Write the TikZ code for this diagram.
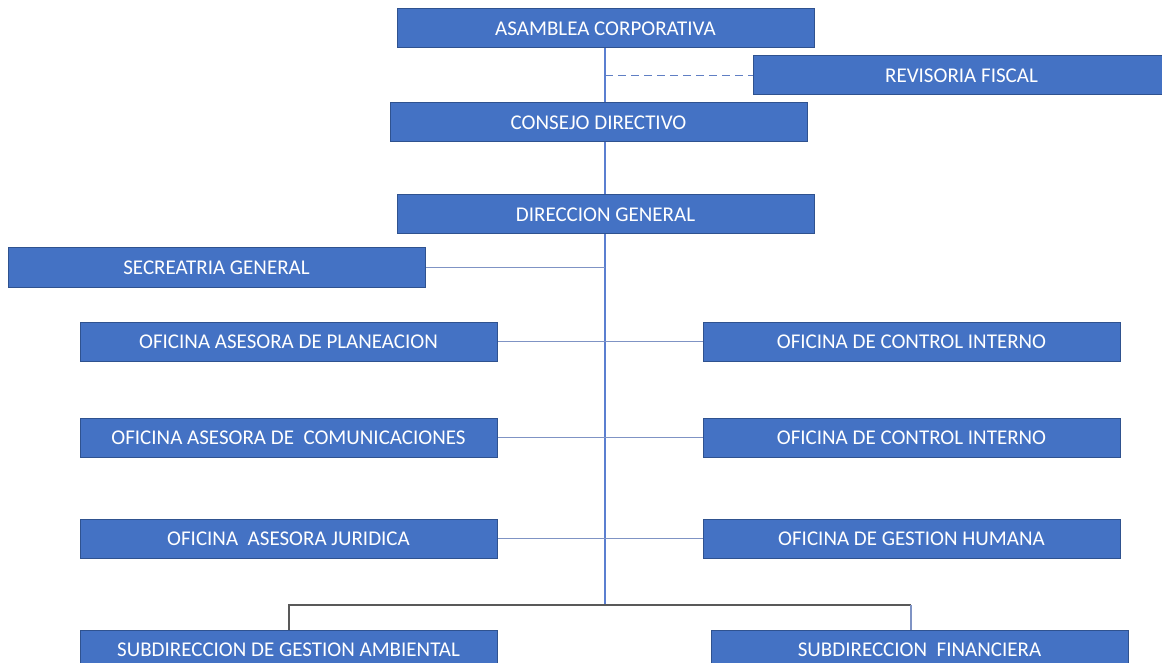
\documentclass[tikz,border=0pt]{standalone}
\usepackage{fontspec}
\setmainfont{Carlito}
\usetikzlibrary{backgrounds}
\definecolor{OrgBlue}{HTML}{4472C4}
\definecolor{OrgBorder}{HTML}{2F528F}
\definecolor{LineBlue}{HTML}{5B7FD0}
\definecolor{LineGrey}{HTML}{7F93C4}
\tikzstyle{every node}=[font=\fontsize{21}{25}\selectfont]
\tikzset{BoxStyle/.style = {
			shape          = rectangle,
			draw           = OrgBorder,
			fill           = OrgBlue,
			text           = white,
			line width     = 1pt,
			inner sep      = 0pt,
			outer sep      = 0pt,
			minimum width  = 417pt,
			minimum height = 39pt}
			}
\tikzset{EdgeStyle/.style   = {line width=1.2pt,LineBlue}}
\tikzset{BranchStyle/.style = {line width=1.4pt,LineGrey}}
\tikzset{DashStyle/.style   = {line width=1.4pt,LineBlue!85!gray,dash pattern=on 8pt off 5pt}}
\tikzset{BusStyle/.style    = {line width=2pt,black!65}}

\begin{document}
\begin{tikzpicture}[x=1pt,y=-1pt]
	\clip (0,0) rectangle (1162,663);

	\draw (605.5,28.5) node[BoxStyle] (asamblea)   {ASAMBLEA CORPORATIVA};
	\draw (961.5,75.5) node[BoxStyle] (revisoria)  {REVISORIA FISCAL};
	\draw (598.5,122.5) node[BoxStyle] (consejo)   {CONSEJO DIRECTIVO};
	\draw (605.5,214.5) node[BoxStyle] (direccion) {DIRECCION GENERAL};
	\draw (216.5,267.5) node[BoxStyle] (secretaria) {SECREATRIA GENERAL};

	\draw (288.5,341.5) node[BoxStyle] (planeacion)     {OFICINA ASESORA DE PLANEACION};
	\draw (911.5,341.5) node[BoxStyle] (control)        {OFICINA DE CONTROL INTERNO};
	\draw (288.5,437.5) node[BoxStyle] (comunicaciones) {OFICINA ASESORA DE~ COMUNICACIONES};
	\draw (911.5,437.5) node[BoxStyle] (controlb)       {OFICINA DE CONTROL INTERNO};
	\draw (288.5,538.5) node[BoxStyle] (juridica)       {OFICINA~ ASESORA JURIDICA};
	\draw (911.5,538.5) node[BoxStyle] (humana)         {OFICINA DE GESTION HUMANA};

	\draw (288.5,649.5) node[BoxStyle] (ambiental)  {SUBDIRECCION DE GESTION AMBIENTAL};
	\draw (919.5,649.5) node[BoxStyle] (financiera) {SUBDIRECCION~ FINANCIERA};

	\coordinate (bus) at (605,605);
	\coordinate (fin) at (911,630);

	\begin{scope}[on background layer]
		\fill[white] (0,0) rectangle (1162,663);
		\draw[EdgeStyle]   (asamblea.south -| bus) -- (bus);
		\draw[DashStyle]   (revisoria.west -| bus) -- (revisoria.west);
		\draw[BranchStyle] (secretaria.east) -- (secretaria.east -| bus);
		\draw[BranchStyle] (planeacion.east) -- (control.west);
		\draw[BranchStyle] (comunicaciones.east) -- (controlb.west);
		\draw[BranchStyle] (juridica.east) -- (humana.west);
		\draw[BusStyle]    (ambiental.north) |- (bus) -- (bus -| fin);
		\draw[BranchStyle] (bus -| fin) -- (fin);
	\end{scope}
\end{tikzpicture}
\end{document}
